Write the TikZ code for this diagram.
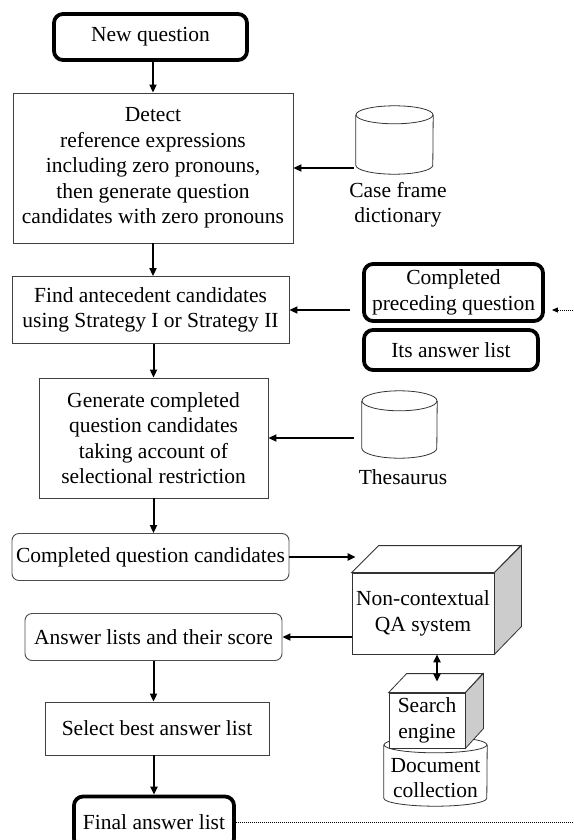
\documentclass[tikz,border=0pt]{standalone}
\usepackage{fontspec}
\setmainfont{Liberation Serif}
\usetikzlibrary{arrows.meta}

% outline of a drum-shaped store round a node: node, half width, ellipse radius
\newcommand{\drumline}[3]{%
  \draw[dbline] ([yshift=-#3]#1.north west) -- ([yshift=#3]#1.south west)
    arc[start angle=180, end angle=360, x radius=#2, y radius=#3]
    -- ([yshift=-#3]#1.north east);
  \draw[dbline] ([yshift=-#3]#1.north) ellipse[x radius=#2, y radius=#3];
}

\begin{document}
\begin{tikzpicture}[x=1pt, y=1pt,
    every node/.style={font=\fontsize{21.5}{25.5}\selectfont, inner sep=0pt, align=center},
    stepbox/.style={draw=black!75, line width=0.9pt, minimum width=#1},
    softbox/.style={draw=black!70, line width=0.9pt, rounded corners=7pt, minimum width=#1},
    heavybox/.style={draw=black, line width=3.8pt, rounded corners=9pt, minimum width=#1},
    dbline/.style={draw=black!80, line width=0.8pt},
    face/.style={draw=black!80, line width=0.8pt},
    flow/.style={line width=2pt, -{Triangle[length=8pt,width=7pt]}},
    flowboth/.style={line width=2pt, {Triangle[length=8pt,width=7pt]}-{Triangle[length=8pt,width=7pt]}},
    dotflow/.style={line width=1pt, densely dotted, -{Triangle[length=6pt,width=5pt]}}]

    \useasboundingbox (0,0) rectangle (573,-840);
    \clip (0,0) rectangle (573,-840);

    % Main column
    \node[heavybox=193pt, minimum height=46pt] (nq) at (150.5,-37) {New question};
    \node[stepbox=280pt, minimum height=150pt] (det) at (153,-168)
        {Detect\\reference expressions\\including zero pronouns,\\then generate question\\candidates with zero pronouns};
    \node[stepbox=277pt, minimum height=67pt] (find) at (150.5,-310)
        {Find antecedent candidates\\using Strategy I or Strategy II};
    \node[stepbox=229pt, minimum height=120pt] (gen) at (153.5,-438)
        {Generate completed\\question candidates\\taking account of\\selectional restriction};
    \node[softbox=277pt, minimum height=47pt] (cqc) at (150.5,-557) {Completed question candidates};
    \node[softbox=257pt, minimum height=47pt] (alist) at (153.5,-637) {Answer lists and their score};
    \node[stepbox=224pt, minimum height=53pt] (sel) at (157,-728.5) {Select best answer list};
    \node[heavybox=160pt, minimum height=51pt] (fin) at (154,-822) {Final answer list};

    % Resources on the right
    \node[minimum width=77pt, minimum height=68pt] (casedb) at (394.5,-140) {};
    \drumline{casedb}{38.5pt}{9pt}
    \node (caselbl) at (398,-204.5) {Case frame\\dictionary};

    \node[heavybox=179pt, minimum height=57pt] (cpq) at (453.5,-292.5) {Completed\\preceding question};
    \node[heavybox=174pt, minimum height=40pt] (ial) at (451,-350) {Its answer list};

    \node[minimum width=75pt, minimum height=67pt] (thes) at (399.5,-424.5) {};
    \drumline{thes}{37.5pt}{10pt}
    \node (theslbl) at (403,-477) {Thesaurus};

    % Document collection under the search engine
    \node[minimum width=103pt, minimum height=69pt] (doccol) at (435.5,-771.5) {};
    \drumline{doccol}{51.5pt}{8pt}
    \node (doctext) at ([yshift=-6.5pt]doccol.center) {Document\\collection};

    % QA system box
    \node[face, fill=white, minimum width=142pt, minimum height=81pt] (qa) at (423,-613.5) {Non-contextual\\QA system};
    \draw[face, fill=white] (qa.north west) -- ++(27,27) -- ++(142,0) -- (qa.north east) -- cycle;
    \draw[face, fill=gray!40] (qa.north east) -- ++(27,27) -- ++(0,-81) -- (qa.south east) -- cycle;

    % Search engine box
    \node[face, fill=white, minimum width=76pt, minimum height=55pt] (se) at (427,-720.5) {Search\\engine};
    \draw[face, fill=white] (se.north west) -- ++(18,19) -- ++(76,0) -- (se.north east) -- cycle;
    \draw[face, fill=gray!40] (se.north east) -- ++(18,19) -- ++(0,-55) -- (se.south east) -- cycle;

    % Flow down the main column
    \draw[flow] (det.north |- nq.south) -- (det.north);
    \draw[flow] (det.south) -- (det.south |- find.north);
    \draw[flow] (gen.north |- find.south) -- (gen.north);
    \draw[flow] (gen.south) -- (gen.south |- cqc.north);
    \draw[flow] (alist.south) -- (alist.south |- sel.north);
    \draw[flow] (fin.north |- sel.south) -- (fin.north);

    % Inputs from the right
    \draw[flow] ([xshift=-2pt]casedb.west |- det.east) -- (det.east);
    \draw[flow] ([xshift=-12pt]cpq.west |- find.east) -- (find.east);
    \draw[flow] ([xshift=-8pt]thes.west |- gen.east) -- (gen.east);
    \draw[flow] (cqc.east) -- ([xshift=4pt]qa.west |- cqc.east);
    \draw[flow] (qa.west |- alist.east) -- (alist.east);
    \draw[flowboth] ([xshift=14pt]qa.south) -- ([xshift=10pt,yshift=11pt]se.north);

    % Links beyond the frame
    \coordinate (prevq) at (573,-310);
    \coordinate (nextq) at (573,-822);
    \draw[dotflow, shorten >=7pt] (prevq) -- (prevq -| cpq.east);
    \draw[line width=1pt, densely dotted] (fin.east) -- (nextq);
\end{tikzpicture}
\end{document}
